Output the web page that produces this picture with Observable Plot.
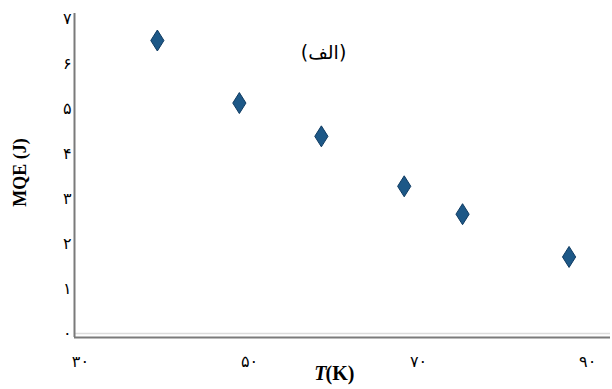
<!DOCTYPE html>
<html>
<head>
<meta charset="utf-8">
<script src="https://cdn.jsdelivr.net/npm/d3@7"></script>
<script src="https://cdn.jsdelivr.net/npm/@observablehq/plot@0.6"></script>
<style>
  html, body { margin: 0; padding: 0; background: #fff; }
</style>
</head>
<body>
<div id="chart"></div>
<script>
// Temperature (K) and minimum quench energy (J)
const temperature = [39.1, 48.8, 58.5, 68.3, 75.2, 87.8];
const mqe = [6.51, 5.12, 4.38, 3.27, 2.65, 1.70];

const xTicks = [30, 50, 70, 90];
const yTicks = [0, 1, 2, 3, 4, 5, 6, 7];
const xDomain = [29.3, 92.7];
const yDomain = [-0.09, 7.11];

const panelLabel = "(الف)";
const yLabel = "MQE (J)";

// Persian digits for tick labels
const faDigits = "۰۱۲۳۴۵۶۷۸۹";
const toFa = (v) => String(v).replace(/\d/g, (d) => faDigits[+d]);

const data = temperature.map((t, i) => ({t, q: mqe[i]}));

// Tall diamond marker
const tallDiamond = {
  draw(ctx, size) {
    const r = Math.sqrt(size / Math.PI);
    const h = r * 1.05, w = r * 0.66;
    ctx.moveTo(0, -h);
    ctx.lineTo(w, 0);
    ctx.lineTo(0, h);
    ctx.lineTo(-w, 0);
    ctx.closePath();
  }
};

const serif = "'Liberation Serif', 'DejaVu Serif', serif";
const faFont = "'DejaVu Sans', sans-serif";

const plot = Plot.plot({
  width: 612,
  height: 389,
  marginLeft: 74,
  marginRight: 2,
  marginTop: 13,
  marginBottom: 52,
  style: {background: "#fff", color: "#000"},
  x: {domain: xDomain, ticks: xTicks},
  y: {domain: yDomain, ticks: yTicks},
  marks: [
    Plot.ruleY([0], {stroke: "#dcdcdc", strokeWidth: 1.5}),
    Plot.ruleX([xDomain[0]], {stroke: "#7a7a7a", strokeWidth: 2}),
    Plot.ruleY([yDomain[0]], {stroke: "#7a7a7a", strokeWidth: 2}),
    Plot.axisY({
      ticks: yTicks, tickSize: 0, tickPadding: 3, tickFormat: toFa,
      label: null, fontSize: 16, fontFamily: faFont
    }),
    Plot.axisX({
      ticks: xTicks, tickSize: 0, tickPadding: 18, tickFormat: toFa,
      label: null, fontSize: 16, fontFamily: faFont
    }),
    Plot.dot(data, {
      x: "t", y: "q", r: 10, symbol: tallDiamond,
      fill: "#1d5887", stroke: "#0f3b62", strokeWidth: 1
    }),
    Plot.text([panelLabel], {
      text: (d) => d, frameAnchor: "top", dx: -19, dy: 32,
      fontSize: 19, fontFamily: faFont
    }),
    Plot.text([yLabel], {
      text: (d) => d, frameAnchor: "left", textAnchor: "middle",
      dx: -54, dy: -3, rotate: -90,
      fontSize: 18, fontWeight: "bold", fontFamily: serif
    }),
    Plot.text(["T"], {
      text: (d) => d, frameAnchor: "bottom", textAnchor: "end",
      dx: -16, dy: 42,
      fontSize: 20, fontWeight: "bold", fontStyle: "italic", fontFamily: serif
    }),
    Plot.text(["(K)"], {
      text: (d) => d, frameAnchor: "bottom", textAnchor: "start",
      dx: -17, dy: 42,
      fontSize: 20, fontWeight: "bold", fontFamily: serif
    })
  ]
});

document.getElementById("chart").appendChild(plot);
</script>
</body>
</html>
